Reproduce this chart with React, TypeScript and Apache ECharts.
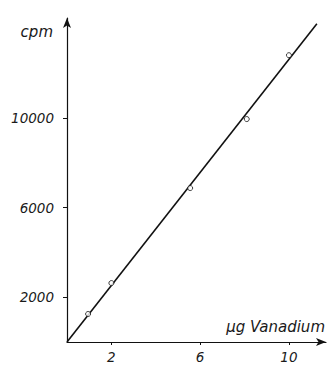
import React, { useEffect, useRef } from "react";
import * as echarts from "echarts";

const sampleX = [0.95, 2.0, 5.55, 8.1, 10.0];
const sampleY = [1250, 2630, 6870, 9950, 12800];
const fitX = [0, 11.26];
const fitY = [0, 14200];
const xTicks = [2, 6, 10];
const yTicks = [2000, 6000, 10000];
const xTitle = "µg Vanadium";
const yTitle = "cpm";

const FONT = "'DejaVu Sans', 'Liberation Sans', sans-serif";

export default function App() {
  const ref = useRef<HTMLDivElement>(null);
  useEffect(() => {
    if (!ref.current) return;
    const chart = echarts.init(ref.current, undefined, { renderer: "svg" });
    const axisText = {
      color: "#1a1a1a",
      fontSize: 13.5,
      fontStyle: "italic" as const,
      fontFamily: FONT,
      formatter: (v: number) => String(v),
    };
    chart.setOption({
      animation: false,
      backgroundColor: "#fff",
      grid: { left: 67, right: 1, top: 18, bottom: 23, containLabel: false },
      xAxis: {
        type: "value",
        min: 0,
        max: 11.67,
        splitLine: { show: false },
        axisLine: {
          show: true,
          lineStyle: { color: "#111", width: 1.2 },
          symbol: ["none", "arrow"],
          symbolSize: [6, 10],
        },
        axisTick: {
          show: true,
          inside: false,
          length: 3,
          customValues: xTicks,
          lineStyle: { color: "#111" },
        },
        axisLabel: {
          show: true,
          customValues: xTicks,
          margin: 8,
          ...axisText,
        },
      },
      yAxis: {
        type: "value",
        min: 0,
        max: 14460,
        splitLine: { show: false },
        axisLine: {
          show: true,
          lineStyle: { color: "#111", width: 1.2 },
          symbol: ["none", "arrow"],
          symbolSize: [6, 10],
        },
        axisTick: {
          show: true,
          length: 4,
          customValues: yTicks,
          lineStyle: { color: "#111" },
        },
        axisLabel: {
          show: true,
          customValues: yTicks,
          margin: 13,
          ...axisText,
        },
      },
      graphic: [
        {
          type: "text",
          x: 53,
          y: 32,
          style: {
            text: yTitle,
            align: "right",
            verticalAlign: "middle",
            fill: "#1a1a1a",
            font: `italic 15px ${FONT}`,
          },
        },
        {
          type: "text",
          x: 325,
          y: 327,
          style: {
            text: xTitle,
            align: "right",
            verticalAlign: "middle",
            fill: "#1a1a1a",
            font: `italic 15px ${FONT}`,
          },
        },
      ],
      series: [
        {
          type: "line",
          data: fitX.map((x, i) => [x, fitY[i]]),
          showSymbol: false,
          lineStyle: { color: "#111", width: 1.6 },
          z: 2,
        },
        {
          type: "scatter",
          data: sampleX.map((x, i) => [x, sampleY[i]]),
          symbol: "circle",
          symbolSize: 5,
          itemStyle: { color: "#fff", borderColor: "#111", borderWidth: 1 },
          z: 3,
        },
      ],
    });
    return () => chart.dispose();
  }, []);
  return (
    <div
      ref={ref}
      style={{ position: "fixed", left: 0, top: 0, width: 327, height: 365 }}
    />
  );
}
